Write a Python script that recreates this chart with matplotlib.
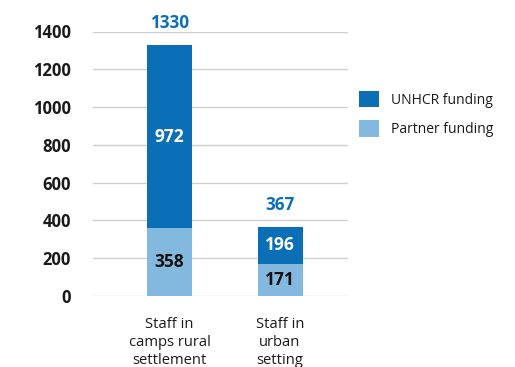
import matplotlib
matplotlib.use("Agg")
import matplotlib.pyplot as plt
import numpy as np

categories = ["Staff in\ncamps rural\nsettlement", "Staff in\nurban\nsetting"]
partner = [358, 171]
unhcr = [972, 196]
totals = [1330, 367]
yticks = [0, 200, 400, 600, 800, 1000, 1200, 1400]
series_names = ["UNHCR funding", "Partner funding"]

dark = "#0B6FB7"
light = "#84B9DF"

plt.rcParams['font.family'] = ['Open Sans', 'DejaVu Sans']

fig = plt.figure(figsize=(5.15, 3.67), dpi=100)
ax = fig.add_axes([93/515, 1-296/367, (348-93)/515, (296-31.5)/367])

x = np.arange(len(categories))
w = 0.407
b1 = ax.bar(x, partner, width=w, color=light, label=series_names[1], zorder=3)
b2 = ax.bar(x, unhcr, width=w, bottom=partner, color=dark, label=series_names[0], zorder=3)

for i in range(len(x)):
    ax.text(x[i], partner[i]/2, str(partner[i]), ha='center', va='center',
            fontsize=12.5, fontweight='bold', color='#111111', zorder=4)
    ax.text(x[i], partner[i] + unhcr[i]/2, str(unhcr[i]), ha='center', va='center',
            fontsize=12.5, fontweight='bold', color='white', zorder=4)
    ax.annotate(str(totals[i]), (x[i], totals[i]), xytext=(0, 15.5), textcoords='offset points',
                ha='center', va='center', fontsize=12.3, fontweight='bold', color=dark,
                annotation_clip=False)

ax.set_xlim(-0.692, 1.615)
ax.set_ylim(0, 1400)
ax.set_yticks(yticks)
ax.set_yticklabels([str(t) for t in yticks], fontsize=12, fontweight='bold', color='#1a1a1a')
ax.tick_params(axis='y', length=0, pad=16)
ax.set_xticks(x)
ax.set_xticklabels(categories, fontsize=10.6, color='#1a1a1a', linespacing=1.3)
ax.tick_params(axis='x', length=0, pad=15)
for s in ax.spines.values():
    s.set_visible(False)
ax.grid(axis='y', color='#cfcfcf', linewidth=1, zorder=0)
ax.set_axisbelow(True)

ax.legend(handles=[b2, b1], labels=series_names, loc='upper left',
          bbox_to_anchor=(359/515, 1-91/367), bbox_transform=fig.transFigure,
          frameon=False, fontsize=10, handlelength=1.45, handleheight=1.45,
          handletextpad=0.85, labelspacing=0.9, borderpad=0, borderaxespad=0,
          labelcolor='#1a1a1a')

fig.savefig("out.png", dpi=100)
